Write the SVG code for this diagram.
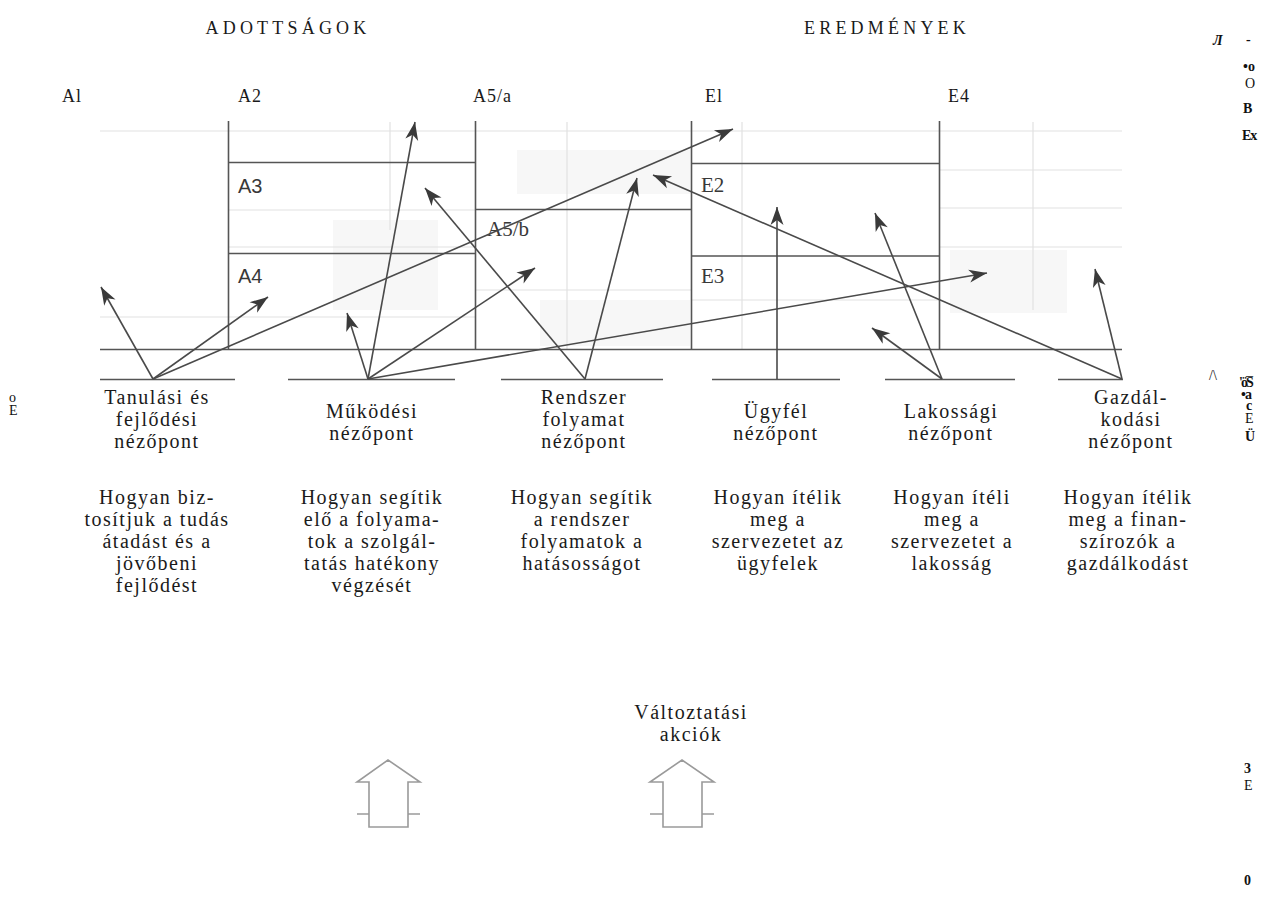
<svg xmlns="http://www.w3.org/2000/svg" width="1282" height="904" viewBox="0 0 1282 904">
<defs>
<marker id="head" viewBox="-20 -8 22 16" refX="0" refY="0" markerWidth="22" markerHeight="16" markerUnits="userSpaceOnUse" orient="auto">
<path d="M0,0 L-18,-6.5 L-13,0 L-18,6.5 Z" fill="#3a3a3a"/>
</marker>
<style>
.t{font-family:"Liberation Serif","Times New Roman",serif;fill:#1a1a1a;}
.lbl{font-size:20px;letter-spacing:1.5px;text-anchor:middle;}
.col{font-size:18px;letter-spacing:1px;}
.title{font-size:18px;letter-spacing:4.2px;text-anchor:middle;}
.cell{font-family:"Liberation Serif","Times New Roman",serif;font-size:21px;fill:#383838;}
.cellsans{font-family:"Liberation Sans",Arial,sans-serif;font-size:20px;fill:#383838;}
.grid{stroke:#555;stroke-width:1.6;fill:none;}
.faint{stroke:#e2e2e2;stroke-width:1.2;fill:none;}
.patch{fill:#f7f7f7;}
.link{stroke:#4a4a4a;stroke-width:1.6;fill:none;marker-end:url(#head);}
.block{stroke:#9a9a9a;stroke-width:1.6;fill:none;stroke-linejoin:miter;}
.art{font-family:"Liberation Serif","Times New Roman",serif;font-size:14px;fill:#111;}
.b{font-weight:bold;}
</style>
</defs>

<rect width="1282" height="904" fill="#ffffff"/>

<!-- faded background table -->
<g id="table-ghost">
  <rect class="patch" x="333" y="220" width="105" height="90"/>
  <rect class="patch" x="517" y="150" width="173" height="44"/>
  <rect class="patch" x="950" y="250" width="117" height="63"/>
  <rect class="patch" x="540" y="300" width="150" height="46"/>
  <path class="faint" d="M100,131 H1122 M100,317 H475 M228,210 H475 M228,247 H475 M940,170 H1122 M940,208 H1122 M940,247 H1122 M390,122 V230 M567,122 V349 M742,122 V349 M1033,122 V310 M475,290 H691 M691,300 H940"/>
</g>

<!-- table frame -->
<g id="table-grid">
  <path class="grid" d="M228.5,121 V349 M475.5,121 V349 M691.5,121 V349 M939.5,121 V349"/>
  <path class="grid" d="M228,162.5 H475 M228,253.5 H475 M475,209.5 H691 M691,163.5 H940 M691,256 H940"/>
  <path class="grid" stroke-width="2" d="M100,349.5 H1122"/>
  <path class="grid" stroke-width="1.4" d="M100,379.5 H235 M288,379.5 H455 M501,379.5 H663 M712,379.5 H840 M885,379.5 H1015 M1058,379.5 H1123"/>
</g>

<!-- headings -->
<g id="heading-adottsagok"><text class="t title" x="288" y="34">ADOTTSÁGOK</text></g>
<g id="heading-eredmenyek"><text class="t title" x="887" y="34">EREDMÉNYEK</text></g>

<g id="col-a1"><text class="t col" x="62" y="102">Al</text></g>
<g id="col-a2"><text class="t col" x="238" y="102">A2</text></g>
<g id="col-a5a"><text class="t col" x="473" y="102">A5/a</text></g>
<g id="col-e1"><text class="t col" x="705" y="102">El</text></g>
<g id="col-e4"><text class="t col" x="948" y="102">E4</text></g>

<!-- cell labels -->
<g id="cell-a3"><text class="cellsans" x="238" y="193">A3</text></g>
<g id="cell-a4"><text class="cellsans" x="238" y="283">A4</text></g>
<g id="cell-a5b"><text class="cell" x="487" y="236">A5/b</text></g>
<g id="cell-e2"><text class="cell" x="701" y="192">E2</text></g>
<g id="cell-e3"><text class="cell" x="701" y="283">E3</text></g>

<!-- links from perspectives to the table cells -->
<g id="connectors">
  <line class="link" x1="153" y1="379" x2="101" y2="287"/>
  <line class="link" x1="153" y1="379" x2="268" y2="297"/>
  <line class="link" x1="153" y1="379" x2="733" y2="129"/>
  <line class="link" x1="368" y1="379" x2="415" y2="122"/>
  <line class="link" x1="368" y1="379" x2="347" y2="313"/>
  <line class="link" x1="368" y1="379" x2="535" y2="268"/>
  <line class="link" x1="368" y1="379" x2="987" y2="273"/>
  <line class="link" x1="585" y1="379" x2="425" y2="188"/>
  <line class="link" x1="585" y1="379" x2="637" y2="178"/>
  <line class="link" x1="777" y1="379" x2="777" y2="207"/>
  <line class="link" x1="942" y1="379" x2="872" y2="328"/>
  <line class="link" x1="942" y1="379" x2="875" y2="213"/>
  <line class="link" x1="1122" y1="379" x2="653" y2="175"/>
  <line class="link" x1="1122" y1="379" x2="1095" y2="269"/>
</g>

<!-- perspectives -->
<g id="p-tanulasi" class="t lbl">
  <text x="157" y="404">Tanulási és</text>
  <text x="157" y="426">fejlődési</text>
  <text x="157" y="448">nézőpont</text>
  <text x="157" y="504">Hogyan biz-</text>
  <text x="157" y="526">tosítjuk a tudás</text>
  <text x="157" y="548">átadást és a</text>
  <text x="157" y="570">jövőbeni</text>
  <text x="157" y="592">fejlődést</text>
</g>
<g id="p-mukodesi" class="t lbl">
  <text x="372" y="418">Működési</text>
  <text x="372" y="440">nézőpont</text>
  <text x="372" y="504">Hogyan segítik</text>
  <text x="372" y="526">elő a folyama-</text>
  <text x="372" y="548">tok a szolgál-</text>
  <text x="372" y="570">tatás hatékony</text>
  <text x="372" y="592">végzését</text>
</g>
<g id="p-rendszer" class="t lbl">
  <text x="584" y="404">Rendszer</text>
  <text x="584" y="426">folyamat</text>
  <text x="584" y="448">nézőpont</text>
  <text x="582" y="504">Hogyan segítik</text>
  <text x="582" y="526">a rendszer</text>
  <text x="582" y="548">folyamatok a</text>
  <text x="582" y="570">hatásosságot</text>
</g>
<g id="p-ugyfel" class="t lbl">
  <text x="776" y="418">Ügyfél</text>
  <text x="776" y="440">nézőpont</text>
  <text x="778" y="504">Hogyan ítélik</text>
  <text x="778" y="526">meg a</text>
  <text x="778" y="548">szervezetet az</text>
  <text x="778" y="570">ügyfelek</text>
</g>
<g id="p-lakossagi" class="t lbl">
  <text x="951" y="418">Lakossági</text>
  <text x="951" y="440">nézőpont</text>
  <text x="952" y="504">Hogyan ítéli</text>
  <text x="952" y="526">meg a</text>
  <text x="952" y="548">szervezetet a</text>
  <text x="952" y="570">lakosság</text>
</g>
<g id="p-gazdalkodasi" class="t lbl">
  <text x="1131" y="404">Gazdál-</text>
  <text x="1131" y="426">kodási</text>
  <text x="1131" y="448">nézőpont</text>
  <text x="1128" y="504">Hogyan ítélik</text>
  <text x="1128" y="526">meg a finan-</text>
  <text x="1128" y="548">szírozók a</text>
  <text x="1128" y="570">gazdálkodást</text>
</g>

<!-- change actions -->
<g id="valtoztatasi" class="t lbl">
  <text x="691" y="719">Változtatási</text>
  <text x="691" y="741">akciók</text>
</g>
<g id="block-arrow-1">
  <path class="block" d="M369,827 V782 H357 L388,760 L420,782 H408 V827 Z M357,814 H369 M408,814 H420"/>
</g>
<g id="block-arrow-2">
  <path class="block" d="M663,827 V782 H650 L682,760 L714,782 H702 V827 Z M650,814 H663 M702,814 H714"/>
</g>

<!-- stray margin marks -->
<g id="margin-marks">
  <text class="art b" x="1213" y="45" font-style="italic">Л</text>
  <text class="art b" x="1246" y="44">-</text>
  <text class="art b" x="1243" y="71">•o</text>
  <text class="art" x="1245" y="88" font-size="12">O</text>
  <text class="art b" x="1243" y="113">B</text>
  <text class="art b" x="1242" y="140" letter-spacing="-1">Ex</text>
  <text class="art" x="1209" y="380" font-size="11">/\</text>
  <text class="art" x="1246" y="375" font-size="10">_</text>
  <text class="art b" x="1239" y="387" font-size="12" letter-spacing="-2">'öS</text>
  <text class="art b" x="1241" y="399" font-size="12" letter-spacing="-1">•a</text>
  <text class="art b" x="1246" y="410" font-size="11">c</text>
  <text class="art" x="1245" y="423">E</text>
  <text class="art b" x="1245" y="441">Ü</text>
  <text class="art" x="9" y="402">o</text>
  <text class="art" x="9" y="415">E</text>
  <text class="art b" x="1244" y="773">3</text>
  <text class="art" x="1244" y="790">E</text>
  <text class="art b" x="1244" y="885">0</text>
</g>
</svg>
